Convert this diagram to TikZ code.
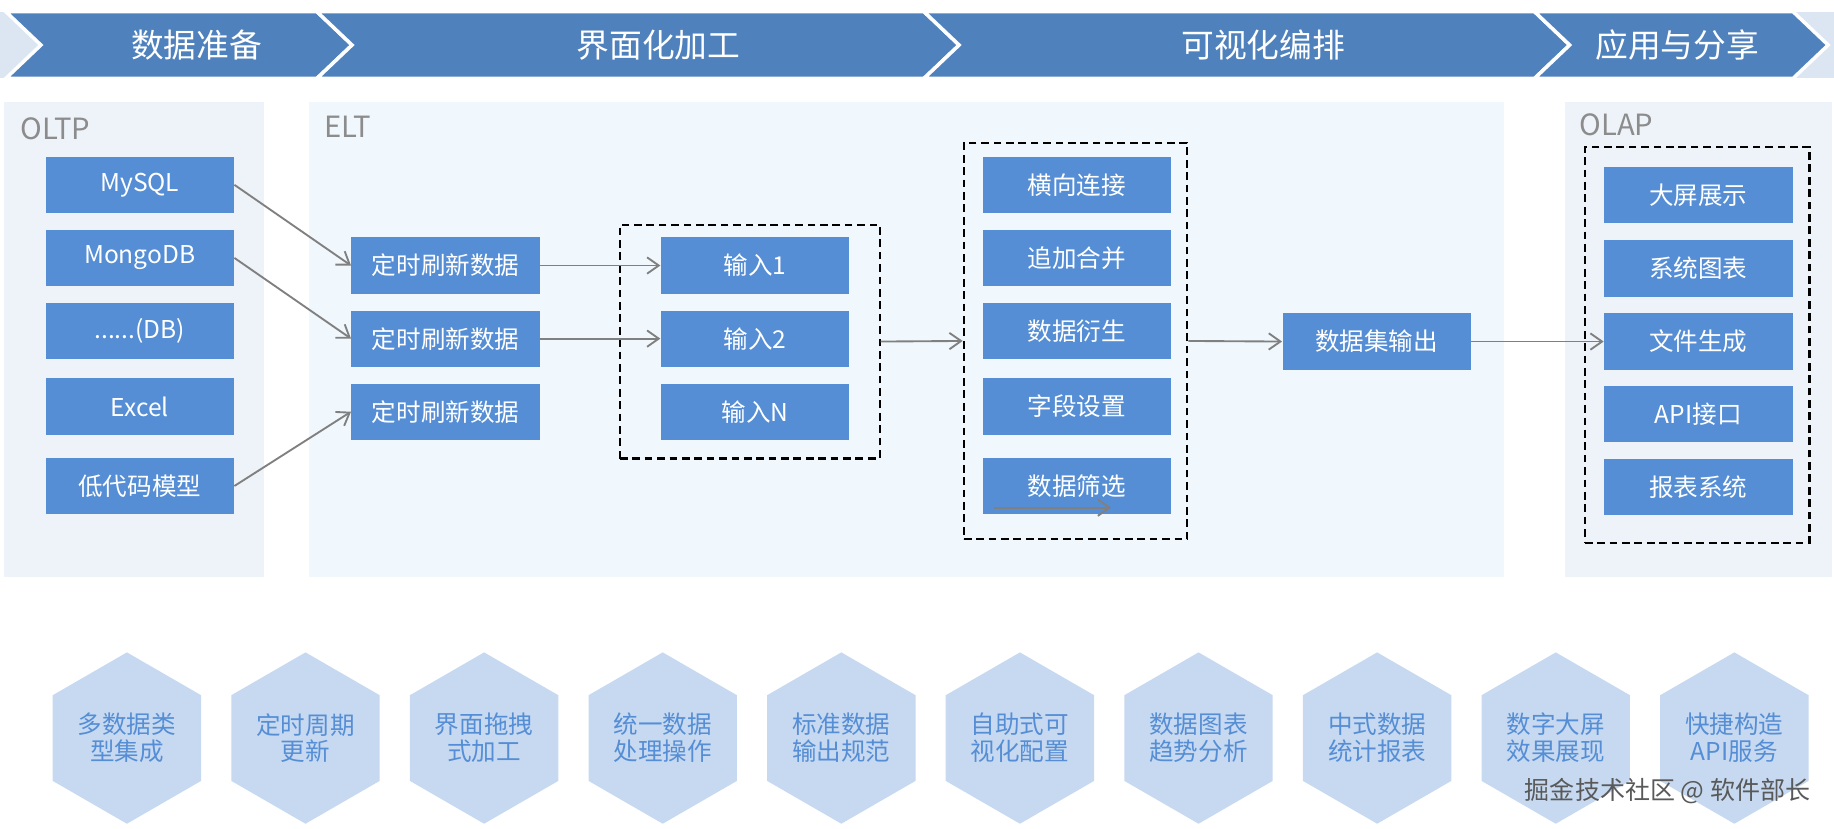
\documentclass[tikz,border=0pt]{standalone}
\usepackage{fontspec}
\setmainfont{Noto Sans CJK SC}
\usetikzlibrary{shapes.geometric,arrows.meta}

\definecolor{pasekniebieski}{HTML}{4F81BD}
\definecolor{pasekjasny}{HTML}{DCE6F2}
\definecolor{bloknieb}{HTML}{558ED5}
\definecolor{panelszary}{HTML}{EEF3FA}
\definecolor{panelelt}{HTML}{F0F7FD}
\definecolor{heksjasny}{HTML}{C6D9F1}
\definecolor{heksnapis}{HTML}{558ED5}
\definecolor{etyk}{HTML}{8C8C8C}
\newcommand{\kropkidb}{......(DB)}

\begin{document}
\begin{tikzpicture}[x=0.5pt,y=-0.5pt,
	blok/.style={fill=bloknieb, text=white, minimum width=80.5pt, minimum height=24pt, inner sep=0pt, font=\fontsize{10.5}{12}\selectfont},
	etap/.style={text=white, font=\fontsize{14}{16}\selectfont},
	etykieta/.style={text=etyk, anchor=west, inner sep=0pt, font=\fontsize{12.5}{14}\selectfont},
	grupa/.style={draw=black, line width=0.9pt, dash pattern=on 3.3pt off 2pt, inner sep=0pt},
	strzalka/.style={draw=gray, line width=0.8pt, -{Straight Barb[length=5pt,width=7pt]}},
	heks/.style={regular polygon, regular polygon sides=6, shape border rotate=30, minimum size=73.25pt, inner sep=0pt, fill=heksjasny, text=heksnapis, align=center, font=\fontsize{10.5}{11.5}\selectfont}]
	\useasboundingbox (0,0) rectangle (1568,708);

	%pasek etapow
	\fill[pasekjasny] (0,10) rectangle (1568,67);
	\foreach \a/\b in {5/271, 271/790, 790/1312, 1312/1533}
		\filldraw[fill=pasekniebieski, draw=white, line width=1.5pt] (\a,10) -- (\b,10) -- (\b+30,38.5) -- (\b,67) -- (\a,67) -- (\a+30,38.5) -- cycle;
	\node[etap] (e1) at (168,38.5) {数据准备};
	\node[etap] (e2) at (563,38.5) {界面化加工};
	\node[etap] (e3) at (1080,38.5) {可视化编排};
	\node[etap] (e4) at (1434,38.5) {应用与分享};

	%panele
	\fill[panelszary] (3,87) rectangle (226,493);
	\fill[panelelt] (264,87) rectangle (1286,493);
	\fill[panelszary] (1338,87) rectangle (1566,493);
	\node[etykieta] (loltp) at (17,110) {OLTP};
	\node[etykieta] (lelt) at (277,108) {ELT};
	\node[etykieta] (lolap) at (1350,107) {OLAP};

	%ramki
	\node[grupa, minimum width=111pt, minimum height=100pt] (gwe) at (641,292) {};
	\node[grupa, minimum width=95.5pt, minimum height=169.5pt] (gop) at (919.5,291.5) {};
	\node[grupa, minimum width=96pt, minimum height=169.25pt] (gol) at (1451,294.75) {};

	%bloki
	\foreach \y/\t [count=\i] in {158/MySQL, 220.5/MongoDB, 283/\kropkidb, 347.5/Excel, 415.5/低代码模型}
		\node[blok] (zr\i) at (119.5,\y) {\t};
	\foreach \y [count=\i] in {227, 289.5, 352}
		\node[blok] (od\i) at (381,\y) {定时刷新数据};
	\foreach \y/\t [count=\i] in {227/1, 289.5/2, 352/N}
		\node[blok] (we\i) at (645.5,\y) {输入\t};
	\foreach \y/\t [count=\i] in {158/横向连接, 220.5/追加合并, 283/数据衍生, 347.5/字段设置, 415.5/数据筛选}
		\node[blok] (op\i) at (920.5,\y) {\t};
	\node[blok] (wyj) at (1177,292) {数据集输出};
	\foreach \y/\t [count=\i] in {167/大屏展示, 229.5/系统图表, 292/文件生成, 354/API接口, 416.5/报表系统}
		\node[blok] (ol\i) at (1452,\y) {\t};

	%strzalki
	\draw[strzalka] (zr1.east) -- (od1.west);
	\draw[strzalka] (zr2.east) -- (od2.west);
	\draw[strzalka] (zr5.east) -- (od3.west);
	\draw[strzalka] (od1.east) -- (we1.west);
	\draw[strzalka] (od2.east) -- (we2.west);
	\draw[strzalka] (gwe.east) -- (gop.west);
	\draw[strzalka] (gop.east) -- (wyj.west);
	\draw[strzalka] (wyj.east) -- (ol3.west);
	\coordinate (p1) at (850,434);
	\coordinate (p2) at (950,434);
	\draw[strzalka] (p1) -- (p2);

	%szesciokaty
	\foreach \a/\b [count=\i] in {多数据类/型集成, 定时周期/更新, 界面拖拽/式加工, 统一数据/处理操作, 标准数据/输出规范, 自助式可/视化配置, 数据图表/趋势分析, 中式数据/统计报表, 数字大屏/效果展现, 快捷构造/API服务}
		\node[heks] (h\i) at ({108.5+152.7*(\i-1)},631) {\a\\\b};

	\node[text=black!65, anchor=east, inner sep=0pt, font=\fontsize{10.7}{12}\selectfont] (znak) at (1548,676) {掘金技术社区 @ 软件部长};
\end{tikzpicture}
\end{document}
